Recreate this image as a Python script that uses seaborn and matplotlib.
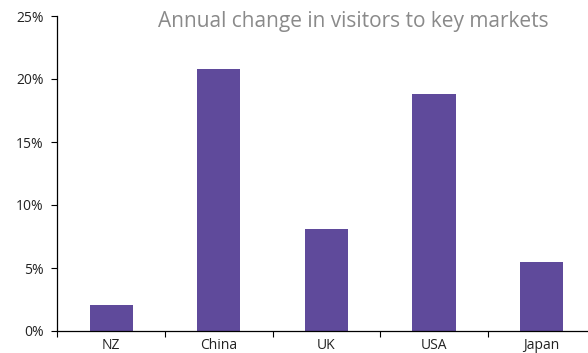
import matplotlib
matplotlib.use("Agg")
import matplotlib.pyplot as plt
import seaborn as sns
import pandas as pd
from matplotlib.ticker import FixedLocator, PercentFormatter

markets = ["NZ", "China", "UK", "USA", "Japan"]
change_pct = [2.1, 20.8, 8.1, 18.8, 5.5]
y_ticks = [0, 5, 10, 15, 20, 25]

df = pd.DataFrame({"market": markets, "change": change_pct})

sns.set_theme(style="white")
plt.rcParams["font.family"] = ["Open Sans", "DejaVu Sans"]

fig = plt.figure(figsize=(5.88, 3.53), dpi=100)
ax = fig.add_axes([57.4 / 588, 22 / 353, 538 / 588, 315 / 353])

sns.barplot(data=df, x="market", y="change", color="#5f4a9b", saturation=1,
            width=0.4, ax=ax, edgecolor="#5f4a9b", linewidth=0)

ax.set_xlim(-0.5, 4.5)
ax.set_ylim(0, 25)
ax.set_yticks(y_ticks)
ax.yaxis.set_major_formatter(PercentFormatter(decimals=0))

# category boundaries carry the tick marks, names sit at the centres
ax.xaxis.set_major_locator(FixedLocator([-0.5, 0.5, 1.5, 2.5, 3.5, 4.5]))
ax.xaxis.set_major_formatter(plt.NullFormatter())
ax.xaxis.set_minor_locator(FixedLocator(range(len(markets))))
ax.set_xticklabels(markets, minor=True)
ax.tick_params(axis="x", which="major", direction="out", length=4, width=0.8, color="black")
ax.tick_params(axis="x", which="minor", length=0, pad=5, labelsize=10, labelcolor="#222222")
ax.tick_params(axis="y", direction="out", length=4, width=0.8, color="black",
               labelsize=10, labelcolor="#222222", pad=6)
ax.tick_params(left=True, bottom=True)

for side in ["top", "right"]:
    ax.spines[side].set_visible(False)
for side in ["left", "bottom"]:
    ax.spines[side].set_color("black")
    ax.spines[side].set_linewidth(0.9)

ax.set_xlabel("")
ax.set_ylabel("")

fig.text(353 / 588, 1 - 22 / 353, "Annual change in visitors to key markets",
         ha="center", va="center", fontsize=15, color="#8a8a8a")

fig.savefig("out.png", dpi=100)
